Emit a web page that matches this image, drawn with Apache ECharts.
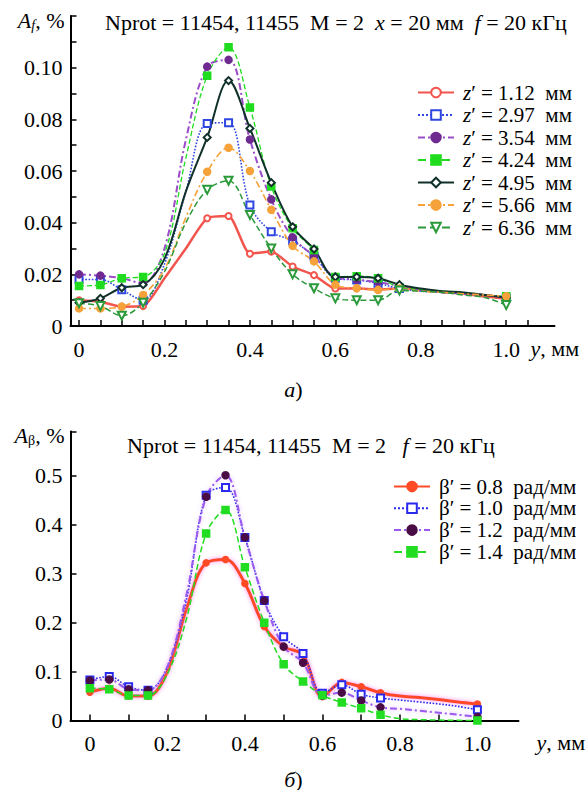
<!DOCTYPE html>
<html><head><meta charset="utf-8">
<script src="https://cdn.jsdelivr.net/npm/echarts@6/dist/echarts.min.js"></script>
<style>html,body{margin:0;padding:0;background:#fff}#c{width:587px;height:790px}</style>
</head><body><div id="c"></div>
<script>
// ---- shared sample positions y, mm ----
const yPos = [0,0.05,0.1,0.15,0.2,0.25,0.3,0.35,0.4,0.45,0.5,0.55,0.6,0.65,0.7,0.75,0.8,0.85,0.9,0.95,1.0];
// points that are drawn without a marker in the reference
const noMarkAt = [0.2,0.25,0.8,0.85,0.9,0.95];

// ---- top chart: A_f, % ----
const zNames = ['1.12','2.97','3.54','4.24','4.95','5.66','6.36'];
const af112 = [0.010,0.0094,0.0075,0.0077,0.0185,0.030,0.0417,0.0426,0.028,0.0288,0.023,0.0197,0.0145,0.0146,0.014,0.0146,0.014,0.0132,0.0125,0.0115,0.0105];
const af297 = [0.018,0.018,0.014,0.010,0.024,0.052,0.0784,0.0787,0.0468,0.0365,0.033,0.027,0.0185,0.0178,0.0165,0.0145,0.0135,0.013,0.0125,0.012,0.0108];
const af354 = [0.020,0.0195,0.0185,0.0165,0.030,0.072,0.1004,0.103,0.0722,0.049,0.0343,0.027,0.019,0.018,0.017,0.0155,0.014,0.013,0.0125,0.012,0.011];
const af424 = [0.0155,0.0159,0.0185,0.019,0.028,0.065,0.0969,0.1079,0.0846,0.054,0.0378,0.0294,0.019,0.0193,0.0185,0.015,0.0142,0.0135,0.013,0.012,0.0115];
const af495 = [0.009,0.0107,0.0148,0.016,0.026,0.052,0.073,0.095,0.0765,0.0555,0.0384,0.0298,0.019,0.019,0.0185,0.016,0.0145,0.0135,0.013,0.012,0.011];
const af566 = [0.0068,0.0068,0.0075,0.012,0.022,0.042,0.0597,0.069,0.060,0.045,0.031,0.025,0.016,0.0146,0.014,0.0145,0.0135,0.013,0.0125,0.012,0.0115];
const af636 = [0.0088,0.0077,0.004,0.009,0.021,0.040,0.0527,0.0562,0.043,0.030,0.020,0.0146,0.0107,0.010,0.010,0.0137,0.0135,0.013,0.012,0.011,0.0081];
const topXTicks = [0,0.05,0.1,0.15,0.2,0.25,0.3,0.35,0.4,0.45,0.5,0.55,0.6,0.65,0.7,0.75,0.8,0.85,0.9,0.95,1.0,1.05];
const topXLabels = [0,0.2,0.4,0.6,0.8,1.0];
const topYTicks = [0.01,0.02,0.03,0.04,0.05,0.06,0.07,0.08,0.09,0.10,0.11,0.12];
const topYLabels = [0,0.02,0.04,0.06,0.08,0.10];

// ---- bottom chart: A_beta, % ----
const bNames = ['0.8','1.0','1.2','1.4'];
const ab08 = [0.058,0.066,0.050,0.050,0.10,0.23,0.322,0.329,0.280,0.192,0.151,0.134,0.049,0.078,0.069,0.057,0.050,0.047,0.043,0.038,0.034];
const ab10 = [0.083,0.090,0.069,0.062,0.11,0.25,0.46,0.476,0.374,0.245,0.171,0.137,0.056,0.073,0.054,0.046,0.042,0.038,0.034,0.029,0.022];
const ab12 = [0.082,0.084,0.064,0.062,0.11,0.26,0.457,0.501,0.374,0.245,0.151,0.118,0.051,0.057,0.041,0.027,0.024,0.020,0.016,0.012,0.0075];
const ab14 = [0.066,0.064,0.051,0.051,0.095,0.21,0.382,0.430,0.313,0.200,0.115,0.080,0.052,0.037,0.025,0.012,0.004,0.002,0.001,0.0005,0.0];
const botXTicks = [0,0.1,0.2,0.3,0.4,0.5,0.6,0.7,0.8,0.9,1.0];
const botXLabels = [0,0.2,0.4,0.6,0.8,1.0];
const botYTicks = [0.1,0.2,0.3,0.4,0.5,0.59];
const botYLabels = [0,0.1,0.2,0.3,0.4,0.5];

const FF = 'Liberation Serif';
const base = (fs, it) => ({fontFamily: FF, fontSize: fs, fontWeight: 'normal', fontStyle: it ? 'italic' : 'normal', color: '#000'});
const rich = (fs) => ({n: base(fs, false), i: base(fs, true)});

function mkData(vals) {
  return yPos.map((x, i) => {
    const d = {value: [x, vals[i]]};
    if (noMarkAt.indexOf(x) >= 0) d.symbol = 'none';
    return d;
  });
}
function fmt(dec) { return v => (Math.abs(v) < 1e-9 ? '0' : v.toFixed(dec)); }

const dashDot = [7, 3, 2, 3];
function line(name, vals, xi, o) {
  return {
    name: name, type: 'line', xAxisIndex: xi, yAxisIndex: xi,
    data: mkData(vals), smooth: o.smooth == null ? 0.35 : o.smooth,
    symbol: o.symbol, symbolSize: o.size || 7, symbolRotate: o.rotate || 0,
    showSymbol: true, showAllSymbol: true,
    lineStyle: {color: o.lc || o.c, width: o.w, type: o.type || 'solid',
      shadowColor: o.glow || 'rgba(0,0,0,0)', shadowBlur: o.glow ? 4 : 0},
    itemStyle: {color: o.mc || o.c, borderColor: o.mc || o.c, borderWidth: 1.5},
    emphasis: {disabled: true}, z: o.z || 2
  };
}

function xAxis(gi, min, max, ticks, labels, nameGap) {
  return {
    gridIndex: gi, type: 'value', min: min, max: max,
    axisLine: {show: true, onZero: false, lineStyle: {color: '#000', width: 2}},
    axisTick: {show: true, inside: true, length: 6, lineStyle: {color: '#000', width: 1.5}, customValues: ticks},
    axisLabel: Object.assign({customValues: labels, formatter: fmt(1), margin: 12}, base(22, false)),
    splitLine: {show: false},
    name: '{i|y}{n|, мм}', nameLocation: 'end', nameGap: nameGap,
    nameTextStyle: {align: 'left', verticalAlign: 'top', padding: [11, 0, 0, 0], fontFamily: FF, rich: rich(22)}
  };
}
function yAxis(gi, max, ticks, labels, dec, nm) {
  return {
    gridIndex: gi, type: 'value', min: 0, max: max,
    axisLine: {show: true, onZero: false, lineStyle: {color: '#000', width: 2}},
    axisTick: {show: true, inside: true, length: 6, lineStyle: {color: '#000', width: 1.5}, customValues: ticks},
    axisLabel: Object.assign({customValues: labels, formatter: fmt(dec), margin: 8}, base(22, false)),
    splitLine: {show: false},
    name: nm, nameLocation: 'end', nameGap: -4,
    nameTextStyle: {align: 'right', verticalAlign: 'middle', padding: [0, 6, 0, 0], fontFamily: FF,
      rich: {i: base(22, true), n: base(22, false),
             s: Object.assign(base(14, false), {padding: [10, 0, 0, 0]}),
             si: Object.assign(base(14, true), {padding: [10, 0, 0, 0]})}}
  };
}

const series = [
  line('1.12', af112, 0, {c: '#f2554e', w: 2.5, symbol: 'emptyCircle', size: 6, smooth: 0.2}),
  line('2.97', af297, 0, {c: '#2f47e0', w: 1.6, type: 'dotted', symbol: 'emptyRect', size: 7}),
  line('3.54', af354, 0, {lc: '#9a4cc8', mc: '#6e2a90', w: 2, type: dashDot, symbol: 'circle', size: 7}),
  line('4.24', af424, 0, {c: '#1fdc1f', w: 1.3, type: 'dashed', symbol: 'rect', size: 7}),
  line('4.95', af495, 0, {c: '#10302a', w: 2, symbol: 'emptyDiamond', size: 7}),
  line('5.66', af566, 0, {c: '#f5a23a', w: 1.6, type: dashDot, symbol: 'circle', size: 7}),
  line('6.36', af636, 0, {c: '#2a9a3a', w: 1.5, type: 'dashed', symbol: 'emptyTriangle', rotate: 180, size: 8}),
  line('0.8', ab08, 1, {c: '#ff4a26', w: 3, symbol: 'circle', size: 6, glow: 'rgba(255,90,220,0.7)'}),
  line('1.0', ab10, 1, {c: '#2a2aee', w: 1.6, type: 'dotted', symbol: 'emptyRect', size: 7}),
  line('1.2', ab12, 1, {lc: '#9a5af0', mc: '#4a0c44', w: 2, type: dashDot, symbol: 'circle', size: 7, glow: 'rgba(200,120,255,0.6)'}),
  line('1.4', ab14, 1, {c: '#22dd22', w: 1.5, type: 'dashed', symbol: 'rect', size: 7})
];

const chart = echarts.init(document.getElementById('c'), null, {renderer: 'svg'});
chart.setOption({
  animation: false,
  backgroundColor: '#fff',
  textStyle: {fontFamily: FF},
  title: [
    {text: '{n|Nprot = 11454, 11455  M = 2  }{i|x}{n| = 20 мм  }{i|f}{n| = 20 кГц}', left: 100, top: 6,
      textStyle: Object.assign(base(22, false), {rich: rich(22)})},
    {text: '{n|Nprot = 11454, 11455  M = 2   }{i|f}{n| = 20 кГц}', left: 122, top: 429,
      textStyle: Object.assign(base(22, false), {rich: rich(22)})},
    {text: '{i|а}{n|)}', left: 'center', top: 373, textStyle: Object.assign(base(22, false), {rich: rich(22)})},
    {text: '{i|б}{n|)}', left: 'center', top: 763, textStyle: Object.assign(base(22, false), {rich: rich(22)})}
  ],
  legend: [
    {data: zNames, orient: 'vertical', left: 417, top: 82, padding: 0, itemGap: 1.5,
      itemWidth: 36, itemHeight: 12, selectedMode: false,
      formatter: n => '{i|z}{n|′ = ' + n + '  мм}',
      textStyle: Object.assign(base(21, false), {padding: [0, 0, 0, 4], lineHeight: 20, rich: rich(21)})},
    {data: bNames, orient: 'vertical', left: 393, top: 476, padding: 0, itemGap: 0.8,
      itemWidth: 36, itemHeight: 12, selectedMode: false,
      formatter: n => '{n|β′ = ' + n + '  рад/мм}',
      textStyle: Object.assign(base(21, false), {padding: [0, 0, 0, 4], lineHeight: 20, rich: rich(21)})}
  ],
  grid: [
    {left: 70.5, top: 16, width: 484, height: 310},
    {left: 70.5, top: 431.6, width: 448, height: 289}
  ],
  xAxis: [
    xAxis(0, -0.02, 1.113, topXTicks, topXLabels, -24),
    xAxis(1, -0.05, 1.106, botXTicks, botXLabels, 18)
  ],
  yAxis: [
    yAxis(0, 0.12, topYTicks, topYLabels, 2, '{i|A}{si|f}{n|, %}'),
    yAxis(1, 0.59, botYTicks, botYLabels, 1, '{i|A}{s|β}{n|, %}')
  ],
  series: series
});
</script>
</body></html>
